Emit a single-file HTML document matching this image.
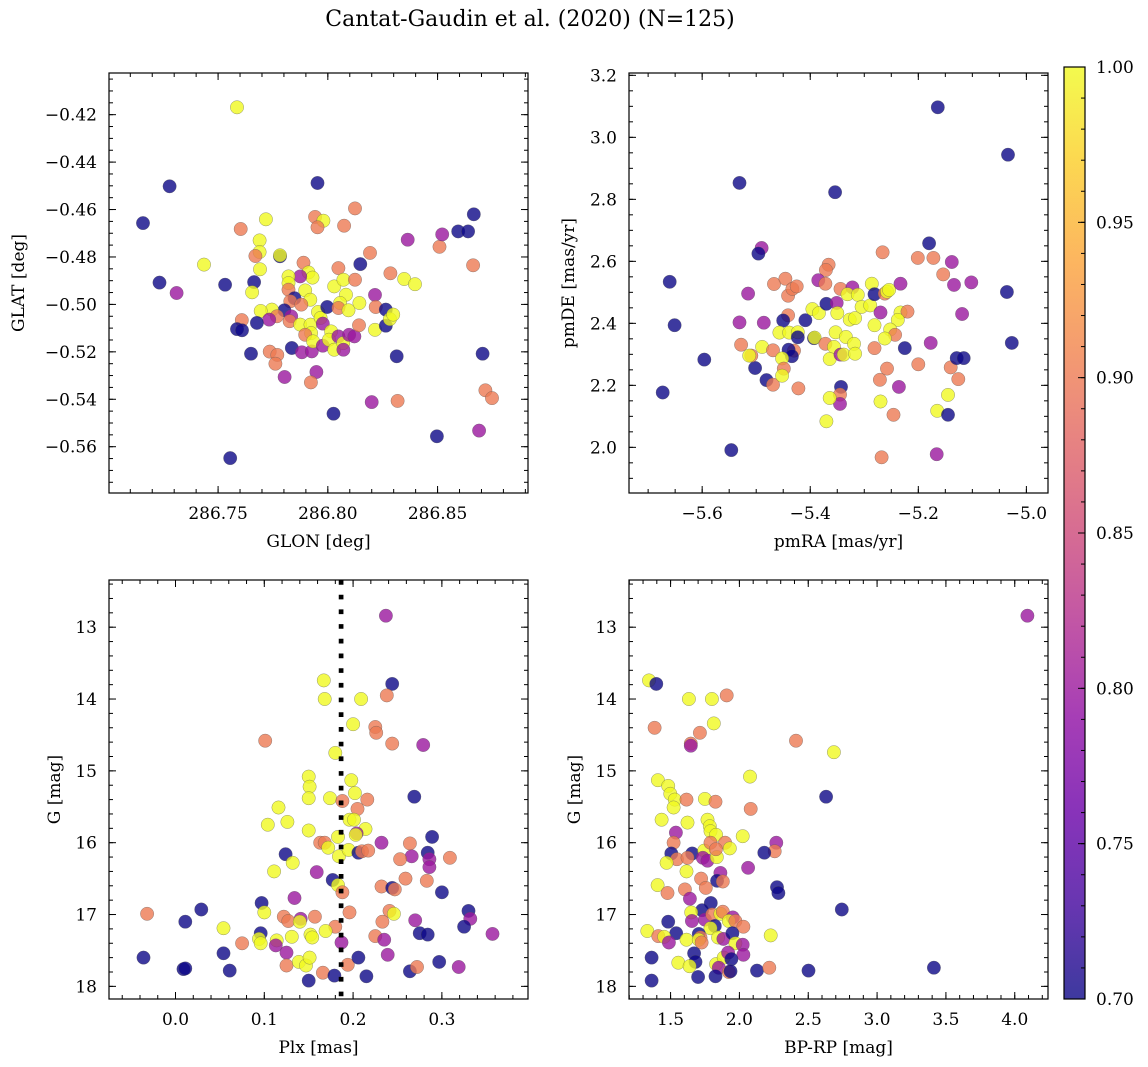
<!DOCTYPE html>
<html><head><meta charset="utf-8"><style>
html,body{margin:0;padding:0;background:#fff;}
svg{display:block;font-family:"DejaVu Serif","Liberation Serif",serif;}
</style></head><body>
<svg id="fig" width="1148" height="1067" viewBox="0 0 1148 1067" xmlns="http://www.w3.org/2000/svg">
<text x="530" y="26" text-anchor="middle" font-size="22">Cantat-Gaudin et al. (2020) (N=125)</text>
</svg>
<script>
// ---------- Panel 1: GLON vs GLAT ----------
const glon = [286.7586,286.7279,286.7158,286.7953,286.8124,286.7942,286.7980,286.7953,286.8074,286.7718,286.7603,286.7689,286.7689,286.7670,286.7782,286.7782,286.7691,286.7436,286.7233,286.7311,286.7532,286.7664,286.7655,286.7889,286.7912,286.7930,286.7874,286.7821,286.7821,286.7821,286.7897,286.7920,286.7848,286.7829,286.7879,286.7802,286.7745,286.7694,286.7768,286.7733,286.7677,286.7608,286.7586,286.7609,286.7650,286.7735,286.7770,286.7761,286.7803,286.7833,286.7826,286.7836,286.7882,286.7927,286.7948,286.7923,286.7874,286.7921,286.7924,286.7897,286.7933,286.7955,286.7967,286.7977,286.7977,286.7997,286.8015,286.8005,286.8029,286.8029,286.8048,286.8071,286.8083,286.8056,286.8048,286.8094,286.8048,286.8070,286.8071,286.8097,286.8121,286.8124,286.8144,286.8142,286.8148,286.8192,286.8215,286.8218,286.8215,286.8264,286.8264,286.8283,286.8298,286.8285,286.8348,286.8397,286.8364,286.8509,286.8521,286.8594,286.8639,286.8665,286.8662,286.8314,286.8705,286.8718,286.8748,286.8318,286.8200,286.8026,286.8497,286.8689,286.7555];
const glat = [-0.4169,-0.4502,-0.4657,-0.4488,-0.4595,-0.4631,-0.4647,-0.4675,-0.4668,-0.4641,-0.4682,-0.4730,-0.4779,-0.4796,-0.4797,-0.4793,-0.4852,-0.4832,-0.4908,-0.4952,-0.4917,-0.4906,-0.4949,-0.4824,-0.4865,-0.4887,-0.4882,-0.4882,-0.4910,-0.4938,-0.4941,-0.4980,-0.4974,-0.4987,-0.5001,-0.5025,-0.5022,-0.5028,-0.5050,-0.5064,-0.5078,-0.5066,-0.5104,-0.5109,-0.5208,-0.5199,-0.5213,-0.5250,-0.5306,-0.5050,-0.5071,-0.5184,-0.5202,-0.5198,-0.5285,-0.5329,-0.5085,-0.5085,-0.5121,-0.5128,-0.5156,-0.5032,-0.5057,-0.5081,-0.5174,-0.5011,-0.5114,-0.5149,-0.5191,-0.4924,-0.4847,-0.4896,-0.4959,-0.4994,-0.5015,-0.5025,-0.5135,-0.5163,-0.5191,-0.5128,-0.5135,-0.4896,-0.4994,-0.5088,-0.4830,-0.4783,-0.4960,-0.5011,-0.5107,-0.5022,-0.5090,-0.5062,-0.5043,-0.4869,-0.4893,-0.4915,-0.4727,-0.4757,-0.4705,-0.4692,-0.4692,-0.4620,-0.4835,-0.5219,-0.5208,-0.5362,-0.5395,-0.5407,-0.5412,-0.5461,-0.5556,-0.5532,-0.5648];
const prob1 = [1,0.7,0.7,0.7,0.9,0.9,1,0.9,0.9,1,0.9,1,1,0.9,0.7,1,1,1,0.7,0.8,0.7,0.7,1,0.9,1,1,0.8,1,1,0.9,1,1,0.7,0.9,0.9,0.7,1,1,0.9,0.8,0.7,0.9,0.7,0.7,0.7,0.9,0.9,0.9,0.8,0.8,0.9,0.7,0.8,0.8,0.8,0.9,1,1,1,0.9,1,1,1,0.8,0.8,0.7,1,1,1,1,0.9,1,1,1,0.9,1,0.8,1,0.8,0.8,0.8,0.9,1,0.9,0.7,0.9,0.8,0.9,1,0.7,0.7,1,1,0.9,1,1,0.8,0.9,0.8,0.7,0.7,0.7,0.9,0.7,0.7,0.9,0.9,0.9,0.8,0.7,0.7,0.8,0.7];

// ---------- Panel 2: pmRA vs pmDE ----------
const pmra = [-5.164,-5.034,-5.531,-5.354,-5.180,-5.490,-5.496,-5.266,-5.201,-5.172,-5.138,-5.154,-5.134,-5.102,-5.036,-5.660,-5.515,-5.651,-5.531,-5.486,-5.596,-5.673,-5.546,-5.502,-5.481,-5.469,-5.528,-5.509,-5.513,-5.489,-5.467,-5.446,-5.441,-5.433,-5.425,-5.441,-5.450,-5.457,-5.439,-5.423,-5.423,-5.409,-5.430,-5.440,-5.434,-5.469,-5.452,-5.449,-5.452,-5.422,-5.393,-5.392,-5.396,-5.384,-5.372,-5.366,-5.371,-5.385,-5.372,-5.370,-5.351,-5.350,-5.353,-5.356,-5.364,-5.344,-5.338,-5.334,-5.319,-5.317,-5.344,-5.322,-5.331,-5.312,-5.327,-5.317,-5.305,-5.289,-5.286,-5.281,-5.262,-5.258,-5.254,-5.233,-5.270,-5.281,-5.233,-5.220,-5.238,-5.252,-5.243,-5.262,-5.281,-5.225,-5.177,-5.119,-5.200,-5.258,-5.271,-5.236,-5.140,-5.126,-5.129,-5.116,-5.027,-5.343,-5.345,-5.345,-5.364,-5.370,-5.270,-5.246,-5.145,-5.165,-5.145,-5.268,-5.166];
const pmde = [3.097,2.944,2.853,2.823,2.658,2.643,2.625,2.629,2.611,2.611,2.598,2.558,2.524,2.532,2.501,2.534,2.496,2.394,2.403,2.402,2.283,2.177,1.991,2.256,2.217,2.202,2.331,2.296,2.296,2.324,2.527,2.544,2.489,2.511,2.519,2.426,2.409,2.370,2.370,2.371,2.355,2.410,2.312,2.315,2.294,2.313,2.287,2.254,2.231,2.190,2.352,2.354,2.446,2.433,2.334,2.589,2.572,2.539,2.528,2.463,2.466,2.433,2.371,2.324,2.285,2.299,2.299,2.356,2.334,2.302,2.511,2.516,2.494,2.492,2.412,2.417,2.453,2.458,2.528,2.494,2.496,2.502,2.508,2.528,2.435,2.394,2.435,2.438,2.411,2.380,2.363,2.351,2.320,2.320,2.337,2.430,2.268,2.254,2.218,2.195,2.258,2.220,2.288,2.288,2.337,2.195,2.170,2.140,2.159,2.084,2.148,2.105,2.169,2.118,2.105,1.968,1.978];
const prob2 = [0.7,0.7,0.7,0.7,0.7,0.8,0.7,0.9,0.9,0.9,0.8,0.9,0.8,0.8,0.7,0.7,0.8,0.7,0.8,0.8,0.7,0.7,0.7,0.7,0.7,0.9,0.9,0.9,1,1,0.9,0.9,0.9,0.9,0.9,0.9,0.7,1,1,1,0.7,0.7,0.9,0.7,0.7,0.9,1,0.9,1,0.9,0.7,1,1,1,0.9,0.9,0.9,0.8,0.9,0.7,0.8,1,1,1,1,0.8,1,1,1,1,0.9,0.8,1,1,1,1,1,1,1,0.7,0.9,1,1,0.8,0.8,1,1,0.9,1,1,0.9,1,0.9,0.7,0.8,0.8,0.9,0.9,0.9,0.8,0.9,0.9,0.7,0.7,0.7,0.7,0.9,0.8,1,1,1,0.9,1,1,0.7,0.9,0.8];

// ---------- Panel 3: Plx vs G ----------
const plx = [0.237,0.244,0.238,0.167,0.168,0.209,0.200,0.225,0.226,0.244,0.279,0.101,0.180,0.150,0.151,0.150,0.198,0.202,0.174,0.188,0.216,0.205,0.269,0.116,0.126,0.104,0.150,0.196,0.201,0.214,0.204,0.203,0.183,0.289,0.163,0.168,0.172,0.184,0.195,0.206,0.210,0.217,0.232,0.264,0.284,0.286,0.286,0.266,0.253,0.309,0.124,0.132,0.111,0.159,0.177,0.183,0.188,0.232,0.244,0.247,0.259,0.283,0.300,0.134,0.097,0.100,-0.032,0.029,0.011,0.054,0.122,0.127,0.141,0.140,0.157,0.196,0.241,0.246,0.233,0.270,0.330,0.332,0.325,0.357,0.275,0.284,0.180,0.169,0.152,0.154,0.131,0.096,0.094,0.096,0.114,0.113,0.075,0.054,0.125,0.187,0.225,0.235,0.239,-0.036,0.009,0.011,0.061,0.125,0.139,0.147,0.151,0.150,0.166,0.179,0.194,0.206,0.215,0.264,0.272,0.297,0.319];
const gmag3 = [12.84,13.79,13.95,13.74,14.00,14.00,14.35,14.39,14.47,14.62,14.64,14.58,14.75,15.08,15.22,15.38,15.13,15.31,15.38,15.42,15.40,15.53,15.36,15.51,15.71,15.75,15.83,15.68,15.68,15.81,15.87,15.89,15.92,15.92,16.00,16.00,16.07,16.19,16.10,16.14,16.12,16.11,16.00,16.01,16.14,16.23,16.34,16.19,16.23,16.21,16.16,16.28,16.40,16.41,16.52,16.59,16.69,16.61,16.63,16.65,16.50,16.53,16.69,16.77,16.84,16.97,16.99,16.93,17.10,17.19,17.03,17.09,17.06,17.10,17.03,16.97,16.95,16.99,17.10,17.08,16.95,17.06,17.17,17.27,17.26,17.28,17.17,17.23,17.28,17.32,17.31,17.26,17.34,17.40,17.36,17.43,17.40,17.54,17.53,17.39,17.30,17.35,17.56,17.60,17.76,17.75,17.78,17.71,17.66,17.71,17.60,17.92,17.81,17.85,17.70,17.60,17.86,17.79,17.73,17.66,17.73];
const prob3 = [0.8,0.7,0.9,1,1,1,1,0.9,0.9,0.9,0.8,0.9,1,1,1,1,1,1,1,0.9,0.9,0.9,0.7,1,1,1,1,1,1,1,0.8,1,1,0.7,0.9,0.9,1,1,1,0.7,0.9,0.9,0.8,0.9,0.7,0.8,0.8,0.8,0.9,0.9,0.7,1,1,0.8,0.7,1,0.9,0.9,0.7,0.9,0.9,0.9,0.7,0.8,0.7,1,0.9,0.7,0.7,1,0.9,0.9,0.8,1,0.9,0.9,0.9,1,0.9,0.8,0.7,0.8,0.7,0.8,0.7,0.7,0.9,1,1,1,1,0.7,1,1,1,0.8,0.9,0.7,0.8,0.8,0.9,0.8,0.8,0.7,0.7,0.7,0.7,0.9,1,1,1,0.7,0.9,0.7,0.9,0.7,0.7,0.7,0.9,0.7,0.8];
const plxRef = [0.1865];

// ---------- Panel 4: BP-RP vs G ----------
const bprp = [4.092,1.343,1.396,1.633,1.800,1.908,1.814,1.384,1.713,1.647,1.647,2.411,2.686,2.077,2.630,1.408,1.483,1.498,1.531,1.522,1.616,1.749,1.826,2.082,1.435,1.623,1.768,1.785,1.790,1.831,1.539,2.024,1.522,2.268,2.256,2.181,1.896,1.930,1.505,1.546,1.657,1.623,1.744,1.734,1.768,1.836,1.790,1.829,1.471,2.063,1.616,1.862,1.722,1.838,1.879,2.273,2.283,1.406,1.478,1.604,1.756,1.640,1.792,2.744,1.729,1.650,1.655,1.483,1.749,1.802,1.862,1.879,1.952,1.923,1.971,2.029,1.821,1.790,1.331,1.541,1.411,1.454,1.488,1.616,1.705,1.717,1.705,1.725,1.845,1.884,1.949,1.971,2.024,2.029,2.227,1.362,1.671,1.681,1.556,1.638,1.831,1.886,1.918,1.942,1.850,1.923,1.935,1.362,1.700,1.826,2.128,2.217,2.502,3.413];
const gmag4 = [12.84,13.74,13.79,14.00,14.00,13.95,14.34,14.40,14.47,14.62,14.65,14.58,14.74,15.08,15.36,15.13,15.21,15.32,15.40,15.51,15.40,15.39,15.43,15.53,15.68,15.72,15.68,15.77,15.84,15.89,15.86,15.91,16.00,16.00,16.12,16.14,16.00,16.08,16.15,16.23,16.15,16.21,16.11,16.21,16.25,16.20,16.00,16.09,16.28,16.35,16.40,16.42,16.50,16.53,16.54,16.62,16.70,16.59,16.70,16.65,16.63,16.78,16.84,16.93,16.94,16.97,17.09,17.10,17.07,17.00,16.99,16.96,17.04,17.09,17.09,17.17,17.16,17.19,17.23,17.26,17.30,17.31,17.39,17.35,17.27,17.32,17.35,17.39,17.32,17.34,17.26,17.40,17.42,17.56,17.29,17.60,17.54,17.66,17.67,17.72,17.69,17.60,17.53,17.62,17.74,17.80,17.79,17.92,17.87,17.86,17.78,17.74,17.78,17.74];
const prob4 = [0.8,1,0.7,1,1,0.9,1,0.9,0.9,0.9,0.8,0.9,1,1,0.7,1,1,1,1,1,0.9,1,0.9,0.9,1,1,1,1,1,1,0.8,1,0.9,0.8,0.9,0.7,0.9,1,0.7,0.9,0.7,0.9,1,0.8,0.8,1,0.9,0.9,1,0.8,1,0.8,0.9,0.7,0.9,0.7,0.7,1,0.9,0.9,0.9,0.8,0.7,0.7,0.7,1,0.8,0.7,0.8,0.9,1,0.9,0.8,1,0.9,0.9,0.7,1,1,0.7,0.9,1,0.8,1,0.7,0.9,1,0.9,1,0.8,0.7,1,0.8,0.8,1,0.7,0.7,0.7,1,1,1,1,0.8,0.7,0.8,0.9,0.7,0.7,0.7,0.7,0.7,0.9,0.7,0.7];

// ---------- Tick labels ----------
const ticks1x = [286.75,286.80,286.85];
const ticks1y = [-0.42,-0.44,-0.46,-0.48,-0.50,-0.52,-0.54,-0.56];
const ticks2x = [-5.6,-5.4,-5.2,-5.0];
const ticks2y = [2.0,2.2,2.4,2.6,2.8,3.0,3.2];
const ticks3x = [0.0,0.1,0.2,0.3];
const ticksG = [13,14,15,16,17,18];
const ticks4x = [1.5,2.0,2.5,3.0,3.5,4.0];
const ticksCbar = [0.70,0.75,0.80,0.85,0.90,0.95,1.00];

const NS = "http://www.w3.org/2000/svg";
const svg = document.getElementById('fig');
function mk(tag, attrs, parent){
  const e = document.createElementNS(NS, tag);
  for (const k in attrs) e.setAttribute(k, attrs[k]);
  (parent||svg).appendChild(e);
  return e;
}
const plasmaStops = ["#0d0887","#41049d","#6a00a8","#8f0da4","#b12a90","#cc4778","#e16462","#f2844b","#fca636","#fcce25","#f0f921"];
function hex2rgb(h){return [parseInt(h.substr(1,2),16),parseInt(h.substr(3,2),16),parseInt(h.substr(5,2),16)];}
function plasma(t){
  t = Math.max(0, Math.min(1, t));
  const f = t*10, i = Math.min(9, Math.floor(f)), r = f - i;
  const a = hex2rgb(plasmaStops[i]), b = hex2rgb(plasmaStops[i+1]);
  return 'rgb(' + a.map((v,k)=>Math.round(v+(b[k]-v)*r)).join(',') + ')';
}
function cnorm(p){return (p-0.7)/0.3;}
function fmt(v, d){ const s = v.toFixed(d); return s.replace('-', '\u2212'); }

function panel(cfg){
  const g = mk('g', {});
  
  
  const X = v => cfg.x0 + (v - cfg.xmin)/(cfg.xmax - cfg.xmin)*(cfg.x1 - cfg.x0);
  const Y = cfg.yinv ? (v => cfg.y0 + (v - cfg.ymin)/(cfg.ymax - cfg.ymin)*(cfg.y1 - cfg.y0))
                     : (v => cfg.y1 - (v - cfg.ymin)/(cfg.ymax - cfg.ymin)*(cfg.y1 - cfg.y0));
  const pts = mk('g', {}, g);
  
  
  for (let i = 0; i < cfg.xs.length; i++){
    const c = mk('circle', {cx: X(cfg.xs[i]).toFixed(1), cy: Y(cfg.ys[i]).toFixed(1), r: 6.7,
      fill: plasma(cnorm(cfg.cs[i])), 'fill-opacity': 0.8, stroke: '#555', 'stroke-opacity': 0.6, 'stroke-width': 0.5}, pts);
    
    
  }
  if (cfg.vline){
    for (const v of cfg.vline){
      const l = mk('line', {x1: X(v), x2: X(v), y1: cfg.y0, y2: cfg.y1, stroke: '#000', 'stroke-width': 4.7, 'stroke-dasharray': '4.7 10'}, g);
      
      
    }
  }
  const fr = mk('rect', {x: cfg.x0, y: cfg.y0, width: cfg.x1-cfg.x0, height: cfg.y1-cfg.y0, fill: 'none', stroke: '#000', 'stroke-width': 1.2}, g);
  
  
  const tk = mk('g', {stroke: '#000', 'stroke-width': 1}, g);
  
  
  const lo = Math.min(cfg.xmin,cfg.xmax), hi = Math.max(cfg.xmin,cfg.xmax);
  for (let v = Math.ceil(lo/cfg.xminor - 1e-6)*cfg.xminor; v <= hi + 1e-9; v += cfg.xminor){
    const x = X(v);
    mk('line', {x1:x,x2:x,y1:cfg.y1,y2:cfg.y1-4}, tk); mk('line', {x1:x,x2:x,y1:cfg.y0,y2:cfg.y0+4}, tk);
  }
  const ylo = Math.min(cfg.ymin,cfg.ymax), yhi = Math.max(cfg.ymin,cfg.ymax);
  for (let v = Math.ceil(ylo/cfg.yminor - 1e-6)*cfg.yminor; v <= yhi + 1e-9; v += cfg.yminor){
    const y = Y(v);
    mk('line', {x1:cfg.x0,x2:cfg.x0+4,y1:y,y2:y}, tk); mk('line', {x1:cfg.x1,x2:cfg.x1-4,y1:y,y2:y}, tk);
  }
  for (const v of cfg.xt){
    const x = X(v);
    mk('line', {x1:x,x2:x,y1:cfg.y1,y2:cfg.y1-7}, tk); mk('line', {x1:x,x2:x,y1:cfg.y0,y2:cfg.y0+7}, tk);
    const t = mk('text', {x: x, y: cfg.y1+26, 'text-anchor':'middle', 'font-size': 17}, g);
    t.textContent = fmt(v, cfg.xd);
    
    
  }
  for (const v of cfg.yt){
    const y = Y(v);
    mk('line', {x1:cfg.x0,x2:cfg.x0+7,y1:y,y2:y}, tk); mk('line', {x1:cfg.x1,x2:cfg.x1-7,y1:y,y2:y}, tk);
    const t = mk('text', {x: cfg.x0-12, y: y+6, 'text-anchor':'end', 'font-size': 17}, g);
    t.textContent = fmt(v, cfg.yd);
    
    
  }
  const xl = mk('text', {x: (cfg.x0+cfg.x1)/2, y: cfg.y1+54, 'text-anchor':'middle', 'font-size': 17}, g);
  xl.textContent = cfg.xlabel;
  
  
  const cy = (cfg.y0+cfg.y1)/2;
  const yl = mk('text', {x: cfg.ylx, y: cy, 'text-anchor':'middle', 'font-size': 17, transform: 'rotate(-90 '+cfg.ylx+' '+cy+')'}, g);
  yl.textContent = cfg.ylabel;
  
  
}

panel({name:'panel-position', x0:109, x1:528, y0:73, y1:493, xmin:286.7003, xmax:286.8912, ymin:-0.57952, ymax:-0.40243,
  xs:glon, ys:glat, cs:prob1, xt:ticks1x, yt:ticks1y, xd:2, yd:2, xminor:0.01, yminor:0.005, xlabel:'GLON [deg]', ylabel:'GLAT [deg]', ylx:24});
panel({name:'panel-proper-motion', x0:629, x1:1048, y0:73, y1:493, xmin:-5.7354, xmax:-4.96, ymin:1.8527, ymax:3.2075,
  xs:pmra, ys:pmde, cs:prob2, xt:ticks2x, yt:ticks2y, xd:1, yd:1, xminor:0.05, yminor:0.05, xlabel:'pmRA [mas/yr]', ylabel:'pmDE [mas/yr]', ylx:574});
panel({name:'panel-parallax', x0:109, x1:528, y0:580, y1:999, xmin:-0.0749, xmax:0.397, ymin:12.343, ymax:18.176, yinv:true,
  xs:plx, ys:gmag3, cs:prob3, xt:ticks3x, yt:ticksG, xd:1, yd:0, xminor:0.02, yminor:0.2, xlabel:'Plx [mas]', ylabel:'G [mag]', ylx:60, vline:plxRef});
panel({name:'panel-cmd', x0:629, x1:1048, y0:580, y1:999, xmin:1.198, xmax:4.2415, ymin:12.343, ymax:18.176, yinv:true,
  xs:bprp, ys:gmag4, cs:prob4, xt:ticks4x, yt:ticksG, xd:1, yd:0, xminor:0.1, yminor:0.2, xlabel:'BP-RP [mag]', ylabel:'G [mag]', ylx:580});

// ---------- Colorbar ----------
(function(){
  const cb = mk('g', {});
  
  
  const defs = mk('defs', {}, cb);
  const lg = mk('linearGradient', {id:'cbg', x1:0, y1:1, x2:0, y2:0}, defs);
  for (let i = 0; i <= 20; i++){
    mk('stop', {offset: (i/20), 'stop-color': plasma(i/20), 'stop-opacity': 0.8}, lg);
  }
  const x0 = 1064, x1 = 1085, y0 = 67, y1 = 999;
  const r = mk('rect', {x:x0, y:y0, width:x1-x0, height:y1-y0, fill:'url(#cbg)', stroke:'#000', 'stroke-width':1.2}, cb);
  
  
  const Yc = v => y1 - (v-0.7)/0.3*(y1-y0);
  for (let k = 0; k <= 30; k++){
    const v = 0.7 + k*0.01, y = Yc(v);
    mk('line', {x1:x1, x2:x1-4, y1:y, y2:y, stroke:'#000', 'stroke-width':1}, cb);
  }
  for (const v of ticksCbar){
    const y = Yc(v);
    mk('line', {x1:x1, x2:x1-7, y1:y, y2:y, stroke:'#000', 'stroke-width':1}, cb);
    const t = mk('text', {x:x1+11, y:y+6, 'font-size':17}, cb);
    t.textContent = v.toFixed(2);
    
    
  }
})();
</script>
</body></html>
